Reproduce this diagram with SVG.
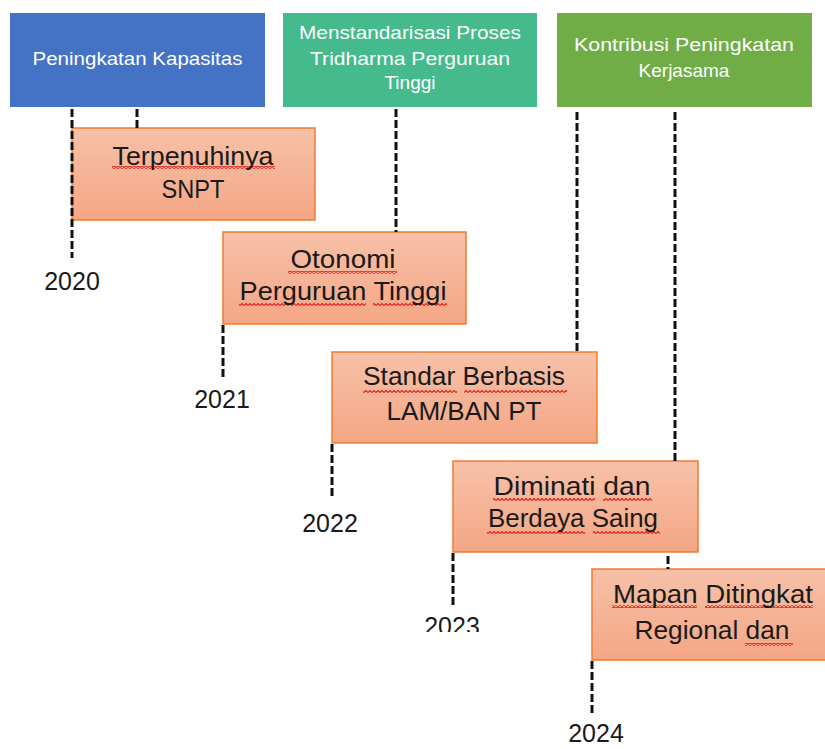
<svg xmlns="http://www.w3.org/2000/svg" width="825" height="749" viewBox="0 0 825 749">
<style>
.hdr{font-family:"Liberation Sans",Arial,sans-serif;font-size:19px;fill:#ffffff;text-anchor:middle}
.box{fill:url(#og);stroke:#ED7D31;stroke-width:1.5}
.bt{font-family:"Liberation Sans",Arial,sans-serif;font-size:26px;fill:#1a1a1a;text-anchor:middle}
.yr{font-family:"Liberation Sans",Arial,sans-serif;font-size:25px;fill:#1a1a1a;text-anchor:middle}
.dl{stroke:#111;stroke-width:3;stroke-dasharray:8 3;fill:none}
.sq{fill:url(#wave)}
</style>
<defs>
<linearGradient id="og" x1="0" y1="0" x2="0" y2="1">
<stop offset="0" stop-color="#F7C1A8"/>
<stop offset="1" stop-color="#F4A685"/>
</linearGradient>
<pattern id="wave" width="4" height="3" patternUnits="userSpaceOnUse">
<polyline points="0,2.5 2,0.5 4,2.5" fill="none" stroke="#E8241C" stroke-width="1.2"/>
</pattern>
<clipPath id="cut2023"><rect x="400" y="600" width="100" height="32"/></clipPath>
</defs>

<g id="header-kapasitas">
<rect x="10" y="13" width="255" height="94" fill="#4472C4"/>
<text class="hdr" x="137.5" y="65" textLength="210" lengthAdjust="spacingAndGlyphs">Peningkatan Kapasitas</text>
</g>
<g id="header-standarisasi">
<rect x="283" y="13" width="254" height="94" fill="#45BA8C"/>
<text class="hdr" x="410" y="39" textLength="222" lengthAdjust="spacingAndGlyphs">Menstandarisasi Proses</text>
<text class="hdr" x="410" y="65" textLength="200" lengthAdjust="spacingAndGlyphs">Tridharma Perguruan</text>
<text class="hdr" x="410" y="89">Tinggi</text>
</g>
<g id="header-kerjasama">
<rect x="557" y="13" width="255" height="94" fill="#70AD47"/>
<text class="hdr" x="684" y="51" textLength="220" lengthAdjust="spacingAndGlyphs">Kontribusi Peningkatan</text>
<text class="hdr" x="684" y="77">Kerjasama</text>
</g>

<g id="node-snpt">
<rect class="box" x="72" y="128" width="243" height="92"/>
<rect class="sq" x="112" y="166" width="163" height="3"/>
<text class="bt" x="193" y="165" textLength="161" lengthAdjust="spacingAndGlyphs">Terpenuhinya</text>
<text class="bt" x="193" y="198" textLength="63" lengthAdjust="spacingAndGlyphs">SNPT</text>
</g>
<g id="node-otonomi">
<rect class="box" x="223" y="232" width="243" height="92"/>
<rect class="sq" x="288" y="271" width="109" height="3"/>
<rect class="sq" x="239" y="303" width="127" height="3"/>
<rect class="sq" x="373" y="303" width="74" height="3"/>
<text class="bt" x="343" y="268" textLength="105" lengthAdjust="spacingAndGlyphs">Otonomi</text>
<text class="bt" x="343" y="300" textLength="207" lengthAdjust="spacingAndGlyphs">Perguruan Tinggi</text>
</g>
<g id="node-standar">
<rect class="box" x="332" y="352" width="265" height="91"/>
<rect class="sq" x="363" y="390" width="94" height="3"/>
<rect class="sq" x="464" y="390" width="103" height="3"/>
<text class="bt" x="464" y="385" textLength="202" lengthAdjust="spacingAndGlyphs">Standar Berbasis</text>
<text class="bt" x="464" y="420" textLength="155" lengthAdjust="spacingAndGlyphs">LAM/BAN PT</text>
</g>
<g id="node-diminati">
<rect class="box" x="453" y="461" width="245" height="91"/>
<rect class="sq" x="493" y="498" width="102" height="3"/>
<rect class="sq" x="603" y="498" width="49" height="3"/>
<rect class="sq" x="487" y="531" width="98" height="3"/>
<rect class="sq" x="593" y="531" width="67" height="3"/>
<text class="bt" x="572" y="495" textLength="157" lengthAdjust="spacingAndGlyphs">Diminati dan</text>
<text class="bt" x="573" y="527" textLength="170" lengthAdjust="spacingAndGlyphs">Berdaya Saing</text>
</g>
<g id="node-mapan">
<rect class="box" x="592" y="569" width="245" height="91"/>
<rect class="sq" x="612" y="605" width="85" height="3"/>
<rect class="sq" x="705" y="605" width="108" height="3"/>
<rect class="sq" x="745" y="643" width="48" height="3"/>
<text class="bt" x="713" y="603" textLength="200" lengthAdjust="spacingAndGlyphs">Mapan Ditingkat</text>
<text class="bt" x="712" y="639" textLength="155" lengthAdjust="spacingAndGlyphs">Regional dan</text>
</g>

<g id="years">
<text class="yr" x="72" y="290">2020</text>
<text class="yr" x="222" y="408">2021</text>
<text class="yr" x="330" y="532">2022</text>
<text class="yr" x="452" y="635" clip-path="url(#cut2023)">2023</text>
<text class="yr" x="596" y="742">2024</text>
</g>

<g id="connectors">
<line class="dl" x1="72" y1="109" x2="72" y2="258"/>
<line class="dl" x1="137" y1="109" x2="137" y2="128"/>
<line class="dl" x1="396" y1="109" x2="396" y2="232"/>
<line class="dl" x1="577" y1="112" x2="577" y2="352"/>
<line class="dl" x1="675" y1="112" x2="675" y2="461"/>
<line class="dl" x1="668" y1="556" x2="668" y2="569"/>
<line class="dl" x1="223" y1="325" x2="223" y2="378"/>
<line class="dl" x1="332" y1="444" x2="332" y2="498"/>
<line class="dl" x1="453" y1="553" x2="453" y2="605"/>
<line class="dl" x1="592" y1="661" x2="592" y2="714"/>
</g>
</svg>
